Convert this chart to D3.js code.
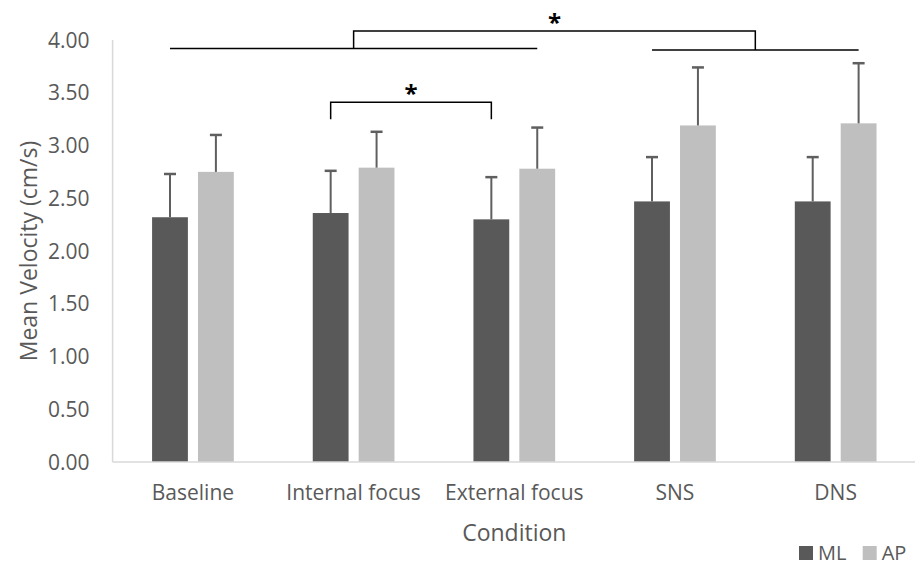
<!DOCTYPE html>
<html>
<head>
<meta charset="utf-8">
<script src="https://cdn.jsdelivr.net/npm/d3@7"></script>
<style>
  body { margin: 0; background: #fff; }
  text { font-family: "Open Sans", sans-serif; fill: #595959; }
</style>
</head>
<body>
<div id="chart"></div>
<script>
// data
var conditions = ["Baseline", "Internal focus", "External focus", "SNS", "DNS"];
var series = ["ML", "AP"];
var mlMean = [2.32, 2.36, 2.30, 2.47, 2.47];
var apMean = [2.75, 2.79, 2.78, 3.19, 3.21];
var mlErr  = [0.41, 0.40, 0.40, 0.42, 0.42];
var apErr  = [0.35, 0.34, 0.39, 0.55, 0.57];
var yTicks = [0, 0.5, 1, 1.5, 2, 2.5, 3, 3.5, 4];

function init(){
  var W = 915, H = 565;
  var left = 112.6, right = 916, top = 40, bottom = 462;

  var svg = d3.select("#chart").append("svg")
      .attr("width", W)
      .attr("height", H);

  var color = d3.scaleOrdinal().domain(series).range(["#595959", "#bfbfbf"]);

  // x scales: groups and the two bars in each group
  var x0 = d3.scaleBand().domain(conditions).range([left, right]).padding(0);
  var x1 = d3.scaleBand().domain(series).range([0, x0.bandwidth()])
      .paddingInner(0.22).paddingOuter(0.86);

  var y = d3.scaleLinear().domain([0, 4]).range([bottom, top]);

  // y axis labels
  svg.append("g").selectAll("text")
    .data(yTicks)
    .enter().append("text")
      .attr("x", left - 23)
      .attr("y", function(d){ return y(d); })
      .attr("dy", "0.36em")
      .attr("text-anchor", "end")
      .style("font-size", "21px")
      .text(function(d){ return d3.format(".2f")(d); });

  // axis lines
  svg.append("line")
    .attr("x1", left).attr("x2", left)
    .attr("y1", y(4)).attr("y2", y(0))
    .attr("stroke", "#d9d9d9").attr("stroke-width", 1.5);

  // build rows
  var rows = conditions.map(function(c, i){
    return { cond: c, vals: [
      { key: "ML", mean: mlMean[i], err: mlErr[i] },
      { key: "AP", mean: apMean[i], err: apErr[i] }
    ]};
  });

  var groups = svg.selectAll("g.grp")
    .data(rows)
    .enter().append("g")
      .attr("class", "grp")
      .attr("transform", function(d){ return "translate(" + x0(d.cond) + ",0)"; });

  groups.selectAll("rect")
    .data(function(d){ return d.vals; })
    .enter().append("rect")
      .attr("x", function(d){ return x1(d.key); })
      .attr("y", function(d){ return y(d.mean); })
      .attr("width", x1.bandwidth())
      .attr("height", function(d){ return y(0) - y(d.mean); })
      .attr("fill", function(d){ return color(d.key); });

  // error bars (upper only)
  var capW = 12;
  var eb = groups.selectAll("g.err")
    .data(function(d){ return d.vals; })
    .enter().append("g")
      .attr("class", "err")
      .attr("stroke", "#5f5f5f")
      .attr("stroke-width", 2);
  eb.append("line")
    .attr("x1", function(d){ return x1(d.key) + x1.bandwidth()/2; })
    .attr("x2", function(d){ return x1(d.key) + x1.bandwidth()/2; })
    .attr("y1", function(d){ return y(d.mean); })
    .attr("y2", function(d){ return y(d.mean + d.err); });
  eb.append("line")
    .attr("stroke-width", 2.5)
    .attr("x1", function(d){ return x1(d.key) + x1.bandwidth()/2 - capW/2; })
    .attr("x2", function(d){ return x1(d.key) + x1.bandwidth()/2 + capW/2; })
    .attr("y1", function(d){ return y(d.mean + d.err); })
    .attr("y2", function(d){ return y(d.mean + d.err); });

  svg.append("line")
    .attr("x1", left).attr("x2", right)
    .attr("y1", y(0)).attr("y2", y(0))
    .attr("stroke", "#d9d9d9").attr("stroke-width", 1.5);

  // category labels
  svg.append("g").selectAll("text")
    .data(conditions)
    .enter().append("text")
      .attr("x", function(d){ return x0(d) + x0.bandwidth()/2; })
      .attr("y", 500)
      .attr("text-anchor", "middle")
      .style("font-size", "21px")
      .text(function(d){ return d; });

  // axis titles
  svg.append("text")
    .attr("x", (left + right)/2)
    .attr("y", 541)
    .attr("text-anchor", "middle")
    .style("font-size", "23px")
    .text("Condition");

  svg.append("text")
    .attr("transform", "translate(37," + (top + bottom)/2 + ") rotate(-90)")
    .attr("text-anchor", "middle")
    .style("font-size", "23px")
    .text("Mean Velocity (cm/s)");

  // significance brackets
  function bx(c, s){ return x0(c) + x1(s) + x1.bandwidth()/2; }
  function cx(c){ return x0(c) + x0.bandwidth()/2; }

  var br = svg.append("g")
    .attr("fill", "none")
    .attr("stroke", "#000")
    .attr("stroke-width", 1.5);

  // Internal vs External focus
  var sA = bx("Internal focus", "ML"), sB = bx("External focus", "ML");
  br.append("path")
    .attr("d", "M" + sA + "," + y(3.25) + "V" + y(3.41) + "H" + sB + "V" + y(3.25));

  // (Baseline..External) vs (SNS, DNS)
  br.append("line")
    .attr("x1", bx("Baseline", "ML")).attr("x2", bx("External focus", "AP"))
    .attr("y1", y(3.92)).attr("y2", y(3.92));
  br.append("line")
    .attr("x1", bx("SNS", "ML")).attr("x2", bx("DNS", "AP"))
    .attr("y1", y(3.905)).attr("y2", y(3.905));
  var bA = cx("Internal focus"), bB = (cx("SNS") + cx("DNS"))/2;
  br.append("path")
    .attr("d", "M" + bA + "," + y(3.92) + "V" + y(4.085) + "H" + bB + "V" + y(3.905));

  var stars = [
    { x: (sA + sB)/2, y: y(3.41) },
    { x: (bA + bB)/2, y: y(4.085) }
  ];
  svg.selectAll("text.star")
    .data(stars)
    .enter().append("text")
      .attr("class", "star")
      .attr("x", function(d){ return d.x; })
      .attr("y", function(d){ return d.y; })
      .attr("text-anchor", "middle")
      .style("font-size", "24px")
      .style("font-weight", "bold")
      .style("fill", "#000")
      .text("*");

  // legend
  var lg = svg.append("g").selectAll("g")
    .data(series)
    .enter().append("g")
      .attr("transform", function(d, i){ return "translate(" + (799 + i*63.7) + ",546)"; });
  lg.append("rect")
    .attr("width", 14).attr("height", 14)
    .attr("fill", function(d){ return color(d); });
  lg.append("text")
    .attr("x", 19)
    .attr("y", 14)
    .style("font-size", "20px")
    .text(function(d){ return d; });
}
window.onload = init;
</script>
</body>
</html>
